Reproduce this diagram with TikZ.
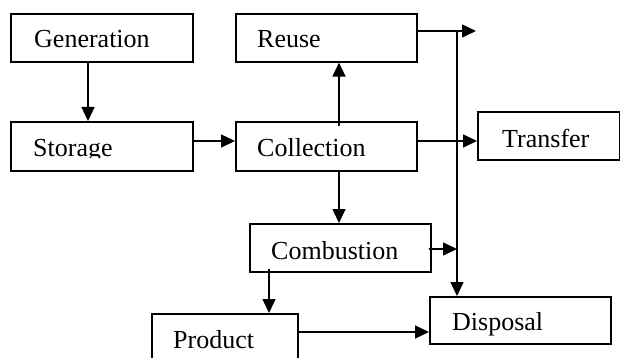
\documentclass[tikz,border=0pt]{standalone}
\usepackage{fontspec}
\setmainfont{Liberation Serif}
\usetikzlibrary{arrows.meta}
\begin{document}
\begin{tikzpicture}[x=1pt,y=-1pt,
  stepbox/.style={draw, line width=1.6pt, rectangle, anchor=north west, inner sep=0pt},
  txt/.style={anchor=base west, inner sep=0pt, font=\fontsize{26}{30}\selectfont},
  arr/.style={line width=1.5pt, -{Triangle[length=14pt,width=13pt]}}]
\useasboundingbox (0,0) rectangle (620,358);
\node[stepbox, minimum width=182pt, minimum height=48pt] (gen) at (10,13) {};
\node[stepbox, minimum width=181pt, minimum height=48pt] (reuse) at (235,13) {};
\node[stepbox, minimum width=182pt, minimum height=49pt] (sto) at (10,121) {};
\node[stepbox, minimum width=181pt, minimum height=49pt] (coll) at (235,121) {};
\node[stepbox, minimum width=142pt, minimum height=48pt] (trans) at (477,111) {};
\node[stepbox, minimum width=181pt, minimum height=48pt] (comb) at (249,223) {};
\node[stepbox, minimum width=146pt, minimum height=53pt] (prod) at (151,313) {};
\node[stepbox, minimum width=181pt, minimum height=47pt] (disp) at (429,296) {};
\node[txt] (gent) at (34,48) {Generation};
\node[txt] (reuset) at (257,48) {Reuse};
\begin{scope}
\clip (0,0) rectangle (620,157.5);
\node[txt] (stot) at (33,157) {Storage};
\end{scope}
\node[txt] (collt) at (257,157) {Collection};
\node[txt] (transt) at (502,147) {Transfer};
\node[txt] (combt) at (271,259) {Combustion};
\node[txt] (prodt) at (173,348) {Product};
\node[txt] (dispt) at (452,330) {Disposal};
\coordinate (v1) at (88,0);
\coordinate (v2) at (339,0);
\coordinate (v3) at (269,0);
\coordinate (trunk) at (457,0);
\coordinate (tipR) at (476,31);
\coordinate (r2) at (0,141);
\coordinate (r3) at (0,249);
\coordinate (r4) at (0,332);
\draw[arr] (gen.south -| v1) -- (sto.north -| v1);
\draw[arr] (sto.east |- r2) -- (coll.west |- r2);
\draw[arr] ([yshift=-5pt]coll.north -| v2) -- (reuse.south -| v2);
\draw[arr] (coll.south -| v2) -- (comb.north -| v2);
\draw[arr] (coll.east |- r2) -- (trans.west |- r2);
\draw[arr] (reuse.east |- tipR) -- (tipR);
\draw[arr] (trunk |- tipR) -- (disp.north -| trunk);
\draw[arr] ([xshift=-3pt]comb.east |- r3) -- (trunk |- r3);
\draw[arr] ([yshift=4pt]comb.south -| v3) -- (prod.north -| v3);
\draw[arr] (prod.east |- r4) -- (disp.west |- r4);
\end{tikzpicture}
\end{document}
